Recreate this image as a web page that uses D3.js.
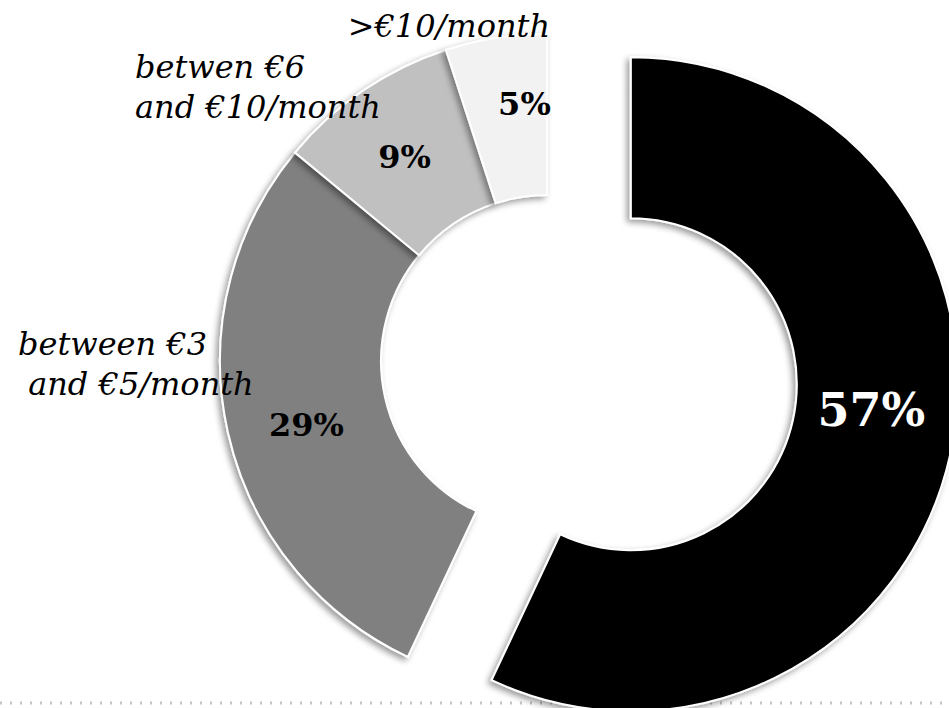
<!DOCTYPE html>
<html>
<head>
<meta charset="utf-8">
<script src="https://cdn.jsdelivr.net/npm/d3@7"></script>
<style>
  html, body { margin: 0; padding: 0; background: #fff; }
  svg { display: block; }
</style>
</head>
<body>
<svg id="chart" width="949" height="708"></svg>
<script>
// ---- data ----
const categories = ["<€3/month", "between €3 and €5/month", "betwen €6 and €10/month", ">€10/month"];
const values = [57, 29, 9, 5];
const valueLabels = ["57%", "29%", "9%", "5%"];
const colors = ["#000000", "#808080", "#c0c0c0", "#f2f2f2"];
const labelColors = ["#ffffff", "#000000", "#000000", "#000000"];

// ---- layout ----
const W = 949, H = 708;
const cx = 547, cy = 361;
const outerR = 327, innerR = 166;
const explode = 87;
const serif = "'DejaVu Serif', 'Liberation Serif', serif";

const svg = d3.select("#chart");
const defs = svg.append("defs");
const f = defs.append("filter").attr("id", "shadow")
  .attr("x", "-20%").attr("y", "-20%").attr("width", "140%").attr("height", "140%");
f.append("feDropShadow").attr("dx", -3).attr("dy", 3).attr("stdDeviation", 3)
  .attr("flood-color", "#000").attr("flood-opacity", 0.4);

// bottom dotted rule
svg.append("line")
  .attr("x1", 0).attr("x2", W).attr("y1", 703).attr("y2", 703)
  .attr("stroke", "#c4c4c4").attr("stroke-width", 3)
  .attr("stroke-dasharray", "2,8");

const pie = d3.pie().sort(null).startAngle(0).endAngle(2 * Math.PI).value(d => d);
const arcs = pie(values);
const arc = d3.arc().innerRadius(innerR).outerRadius(outerR);

const g = svg.append("g").attr("transform", `translate(${cx},${cy})`);

const slices = g.selectAll("g.slice").data(arcs).enter().append("g")
  .attr("class", "slice")
  .attr("transform", (d, i) => {
    if (i !== 0) return null;
    const a = (d.startAngle + d.endAngle) / 2 + 0.05;
    return `translate(${Math.sin(a) * explode},${-Math.cos(a) * explode})`;
  });

slices.append("path")
  .attr("d", arc)
  .attr("fill", (d, i) => colors[i])
  .attr("stroke", "#ffffff")
  .attr("stroke-width", 2)
  .attr("filter", "url(#shadow)");

// value labels at centroids (small nudges)
const nudges = [[0, -28], [0, 10], [-4, 0], [16, -14]];
const sizes = [46, 32, 32, 32];
slices.append("text")
  .attr("x", (d, i) => arc.centroid(d)[0] + nudges[i][0])
  .attr("y", (d, i) => arc.centroid(d)[1] + nudges[i][1])
  .attr("text-anchor", "middle")
  .attr("dominant-baseline", "central")
  .attr("font-family", serif)
  .attr("font-weight", "bold")
  .attr("font-size", (d, i) => sizes[i])
  .attr("fill", (d, i) => labelColors[i])
  .text((d, i) => valueLabels[i]);

// category labels
const catLabel = (lines, x, y, anchor) => {
  const t = svg.append("text")
    .attr("font-family", serif)
    .attr("font-style", "italic")
    .attr("font-size", 32)
    .attr("fill", "#000")
    .attr("text-anchor", anchor);
  lines.forEach((ln, k) => {
    t.append("tspan").attr("x", x).attr("y", y + k * 40).attr("xml:space", "preserve").text(ln);
  });
};
catLabel([">€10/month"], 550, 37, "end");
catLabel(["betwen €6", "and €10/month"], 135, 78, "start");
catLabel(["between €3", "\u00a0and €5/month"], 18, 355, "start");
</script>
</body>
</html>
